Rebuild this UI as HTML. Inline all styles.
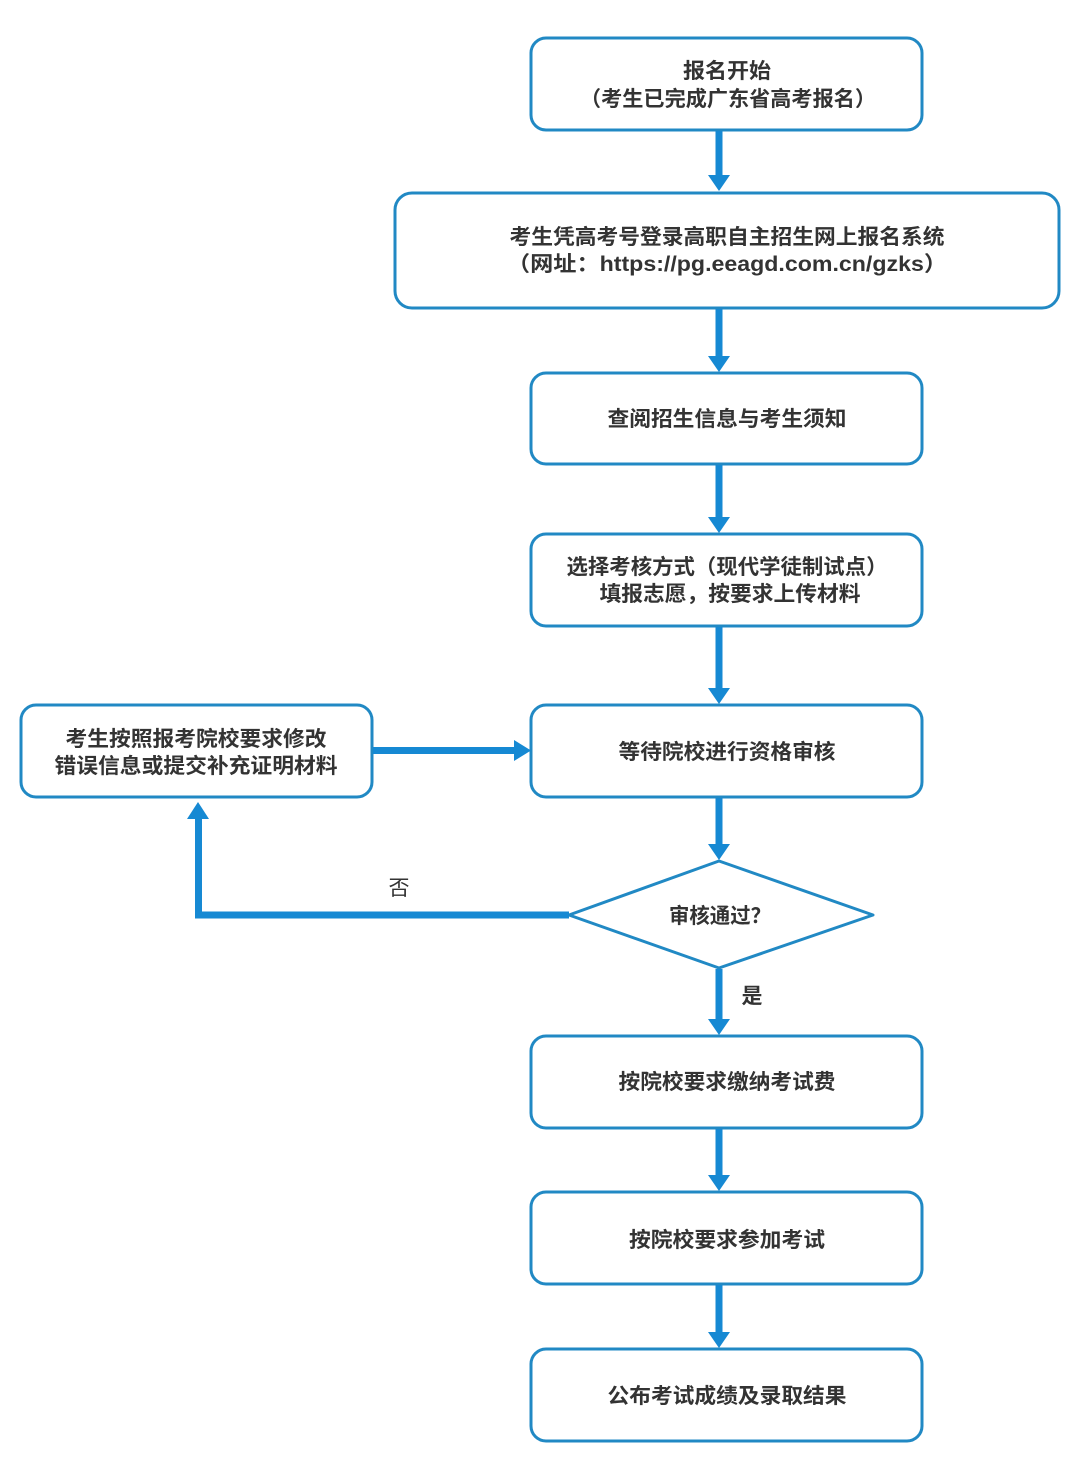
<!DOCTYPE html>
<html>
<head>
<meta charset="utf-8">
<style>
html,body{margin:0;padding:0;background:#fff;}
svg{display:block;}
text{font-family:"Liberation Sans","Noto Sans CJK SC",sans-serif;font-weight:bold;fill:#333;font-size:21px;}
</style>
</head>
<body>
<svg width="1080" height="1466" viewBox="0 0 1080 1466" xmlns="http://www.w3.org/2000/svg">
<rect x="0" y="0" width="1080" height="1466" fill="#fff"/>
<g fill="#fff" stroke="#2189c4" stroke-width="3">
<rect x="531" y="38" width="391" height="92" rx="15"/>
<rect x="395" y="193" width="664" height="115" rx="17"/>
<rect x="531" y="373" width="391" height="91" rx="15"/>
<rect x="531" y="534" width="391" height="92" rx="15"/>
<rect x="531" y="705" width="391" height="92" rx="15"/>
<rect x="21" y="705" width="351" height="92" rx="15"/>
<polygon points="569,915 719,861 873,915 719,968" stroke-linejoin="round"/>
<rect x="531" y="1036" width="391" height="92" rx="15"/>
<rect x="531" y="1192" width="391" height="92" rx="15"/>
<rect x="531" y="1349" width="391" height="92" rx="15"/>
</g>
<g fill="#1689d3">
<!-- vertical arrows -->
<rect x="715.5" y="131" width="7" height="45"/><polygon points="708,175 730,175 719,191"/>
<rect x="715.5" y="309" width="7" height="48"/><polygon points="708,356 730,356 719,372"/>
<rect x="715.5" y="465" width="7" height="53"/><polygon points="708,517 730,517 719,533"/>
<rect x="715.5" y="627" width="7" height="62"/><polygon points="708,688 730,688 719,704"/>
<rect x="715.5" y="798" width="7" height="47"/><polygon points="708,844 730,844 719,860"/>
<rect x="715.5" y="969" width="7" height="51"/><polygon points="708,1019 730,1019 719,1035"/>
<rect x="715.5" y="1129" width="7" height="47"/><polygon points="708,1175 730,1175 719,1191"/>
<rect x="715.5" y="1285" width="7" height="48"/><polygon points="708,1332 730,1332 719,1348"/>
<!-- horizontal arrow to box5 -->
<rect x="373" y="747" width="143" height="7"/><polygon points="514,740 514,761 531,750.5"/>
<!-- loop back -->
<rect x="195" y="911.5" width="374" height="7"/>
<rect x="195" y="817" width="7" height="101.5"/>
<polygon points="187,819 209,819 198,802"/>
</g>
<g text-anchor="middle">
<text x="727" y="78" textLength="88" lengthAdjust="spacingAndGlyphs">报名开始</text>
<text x="728" y="106" textLength="296" lengthAdjust="spacingAndGlyphs">（考生已完成广东省高考报名）</text>
<text x="727" y="244" textLength="435" lengthAdjust="spacingAndGlyphs">考生凭高考号登录高职自主招生网上报名系统</text>
<text x="727" y="271" textLength="440" lengthAdjust="spacingAndGlyphs">（网址：https://pg.eeagd.com.cn/gzks）</text>
<text x="727" y="426" textLength="239" lengthAdjust="spacingAndGlyphs">查阅招生信息与考生须知</text>
<text x="727" y="574" textLength="321" lengthAdjust="spacingAndGlyphs">选择考核方式（现代学徒制试点）</text>
<text x="730" y="601" textLength="261" lengthAdjust="spacingAndGlyphs">填报志愿，按要求上传材料</text>
<text x="727" y="759" textLength="217" lengthAdjust="spacingAndGlyphs">等待院校进行资格审核</text>
<text x="196" y="746" textLength="261" lengthAdjust="spacingAndGlyphs">考生按照报考院校要求修改</text>
<text x="196" y="773" textLength="283" lengthAdjust="spacingAndGlyphs">错误信息或提交补充证明材料</text>
<text x="720" y="923" textLength="102" lengthAdjust="spacingAndGlyphs">审核通过？</text>
<text x="399" y="895" style="font-weight:normal">否</text>
<text x="752" y="1003">是</text>
<text x="727" y="1089" textLength="217" lengthAdjust="spacingAndGlyphs">按院校要求缴纳考试费</text>
<text x="727" y="1247" textLength="196" lengthAdjust="spacingAndGlyphs">按院校要求参加考试</text>
<text x="727" y="1403" textLength="239" lengthAdjust="spacingAndGlyphs">公布考试成绩及录取结果</text>
</g>
</svg>
</body>
</html>
